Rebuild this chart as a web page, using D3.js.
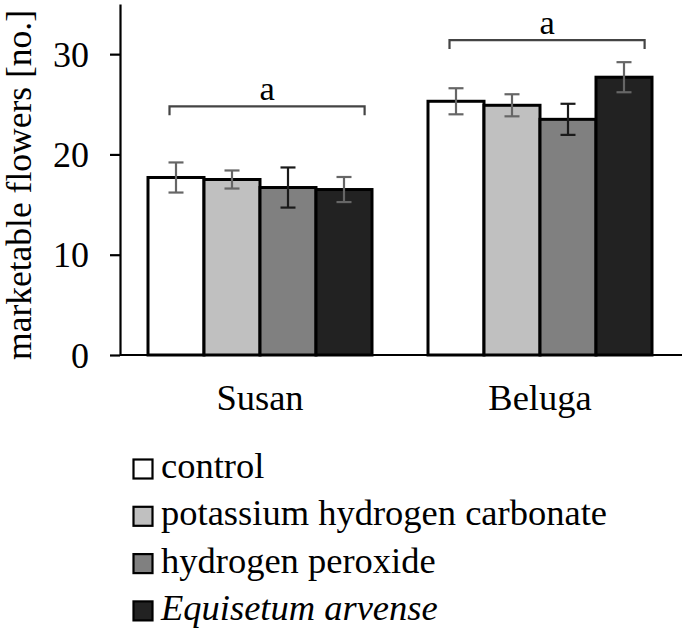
<!DOCTYPE html>
<html>
<head>
<meta charset="utf-8">
<script src="https://cdn.jsdelivr.net/npm/d3@7"></script>
</head>
<body style="margin:0">
<svg id="chart" width="685" height="637"></svg>
<script>
// ---- data ----
const categories = ["Susan", "Beluga"];
const seriesNames = ["control", "potassium hydrogen carbonate", "hydrogen peroxide", "Equisetum arvense"];
const controlValues   = [17.7, 25.3];
const khco3Values     = [17.5, 24.9];
const h2o2Values      = [16.7, 23.5];
const equisetumValues = [16.5, 27.7];
const controlErr   = [1.5, 1.3];
const khco3Err     = [0.9, 1.1];
const h2o2Err      = [2.0, 1.55];
const equisetumErr = [1.25, 1.5];
const yTicks = [0, 10, 20, 30];
const groupLetters = ["a", "a"];
const bracketLevels = [24.8, 31.4];
const yLabel = "marketable flowers [no.]";

// ---- styles ----
const fills = ["#ffffff", "#c0c0c0", "#808080", "#222222"];
const errColors = ["#666666", "#666666", "#1a1a1a", "#666666"];
const italicSeries = [false, false, false, true];
const SERIF = "'Liberation Serif'";

function serif(sel, size) {
  return sel.style("font-family", SERIF).style("font-size", size + "px").attr("fill", "#000");
}

const values = [controlValues, khco3Values, h2o2Values, equisetumValues];
const errors = [controlErr, khco3Err, h2o2Err, equisetumErr];

const svg = d3.select("#chart");
const mLeft = 120, mRight = 680, mTop = 4, mBottom = 355;

const y = d3.scaleLinear().domain([0, 35]).range([mBottom, mTop]);
const x0 = d3.scaleBand().domain(categories).range([mLeft, mRight]).paddingInner(0.2).paddingOuter(0.1);
const x1 = d3.scaleBand().domain(seriesNames).range([0, x0.bandwidth()]).padding(0);

// bars
const rows = [];
categories.forEach((c, ci) => {
  seriesNames.forEach((s, si) => {
    rows.push({c, s, si, v: values[si][ci], e: errors[si][ci]});
  });
});

svg.append("g").selectAll("rect").data(rows).join("rect")
  .attr("x", d => x0(d.c) + x1(d.s))
  .attr("y", d => y(d.v))
  .attr("width", x1.bandwidth())
  .attr("height", d => y(0) - y(d.v))
  .attr("fill", d => fills[d.si])
  .attr("stroke", "#000")
  .attr("stroke-width", 3);

// error bars
const eb = svg.append("g");
const cap = 7.5;
rows.forEach(d => {
  const cx = x0(d.c) + x1(d.s) + x1.bandwidth() / 2;
  const g = eb.append("g").attr("stroke", errColors[d.si]).attr("stroke-width", 2.2);
  g.append("line").attr("x1", cx).attr("x2", cx).attr("y1", y(d.v + d.e)).attr("y2", y(d.v - d.e));
  g.append("line").attr("x1", cx - cap).attr("x2", cx + cap).attr("y1", y(d.v + d.e)).attr("y2", y(d.v + d.e));
  g.append("line").attr("x1", cx - cap).attr("x2", cx + cap).attr("y1", y(d.v - d.e)).attr("y2", y(d.v - d.e));
});

// y axis
const yAxis = d3.axisLeft(y).tickValues(yTicks).tickSize(10).tickSizeOuter(0).tickPadding(21);
const ya = svg.append("g").attr("transform", `translate(${mLeft},0)`).call(yAxis);
ya.attr("font-family", null).attr("font-size", null);
ya.select(".domain").attr("stroke", "#000").attr("stroke-width", 2.2);
ya.selectAll(".tick line").attr("stroke", "#000").attr("stroke-width", 2.2);
serif(ya.selectAll(".tick text"), 36).attr("dy", "0.34em");

// x axis
const xAxis = d3.axisBottom(x0).tickSize(0).tickSizeOuter(0);
const xa = svg.append("g").attr("transform", `translate(0,${mBottom})`).call(xAxis);
xa.attr("font-family", null).attr("font-size", null);
xa.select(".domain").attr("stroke", "#000").attr("stroke-width", 2.2).attr("d", `M${mLeft},0H${mRight + 2}`);
serif(xa.selectAll(".tick text"), 36.5).attr("dy", 0).attr("y", 55);

// y label
serif(svg.append("text"), 35.5)
  .attr("transform", `translate(31,${(5 + 365) / 2}) rotate(-90)`)
  .attr("text-anchor", "middle")
  .text(yLabel);

// brackets with letters
const br = svg.append("g");
categories.forEach((c, ci) => {
  const bx0 = x0(c) + x0.bandwidth() * 0.096;
  const bx1 = x0(c) + x0.bandwidth() * 0.967;
  const by = y(bracketLevels[ci]);
  const drop = 9;
  br.append("path")
    .attr("d", `M${bx0},${by + drop}V${by}H${bx1}V${by + drop}`)
    .attr("fill", "none").attr("stroke", "#444").attr("stroke-width", 2.2);
  serif(br.append("text"), 34.5)
    .attr("x", (bx0 + bx1) / 2).attr("y", by - 6.5)
    .attr("text-anchor", "middle")
    .text(groupLetters[ci]);
});

// legend
const lg = svg.append("g");
const legendBase = 478, legendStep = 47.3;
seriesNames.forEach((s, si) => {
  const by = legendBase + si * legendStep;
  lg.append("rect")
    .attr("x", 133.5).attr("y", by - 18.5).attr("width", 19).attr("height", 19)
    .attr("fill", fills[si]).attr("stroke", "#000").attr("stroke-width", 2.2);
  serif(lg.append("text"), 36.5)
    .attr("x", 161).attr("y", by)
    .style("font-style", italicSeries[si] ? "italic" : "normal")
    .text(s);
});
</script>
</body>
</html>
